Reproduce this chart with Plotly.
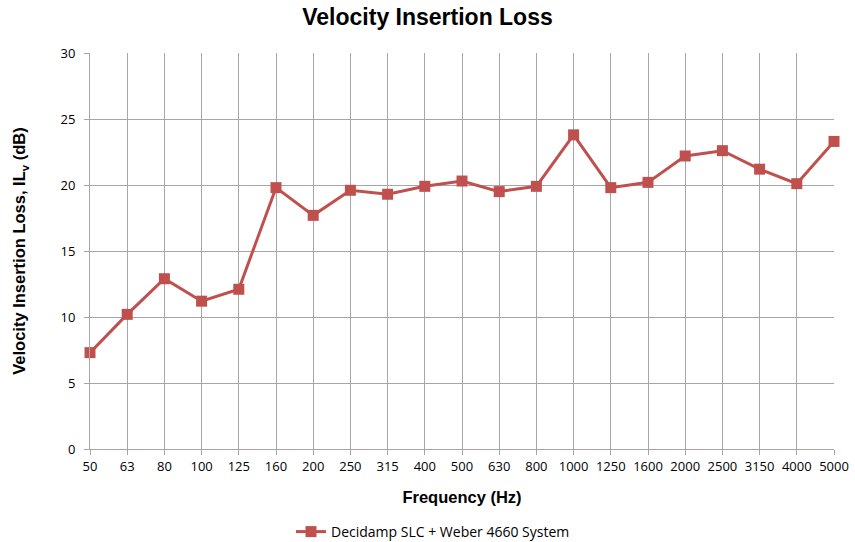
import plotly.graph_objects as go

freqs = ["50", "63", "80", "100", "125", "160", "200", "250", "315", "400", "500",
         "630", "800", "1000", "1250", "1600", "2000", "2500", "3150", "4000", "5000"]
il_v = [7.3, 10.2, 12.9, 11.2, 12.1, 19.8, 17.7, 19.6, 19.3, 19.9, 20.3,
        19.5, 19.9, 23.8, 19.8, 20.2, 22.2, 22.6, 21.2, 20.1, 23.3]
series_name = "Decidamp SLC + Weber 4660 System"

red = "#C0504D"
grid = "#A6A6A6"
tickfont = dict(family="Open Sans, Liberation Sans, sans-serif", size=13, color="#000000")
boldfont = "Liberation Sans, Arial, sans-serif"

fig = go.Figure()
fig.add_trace(go.Scatter(
    x=freqs, y=il_v, name=series_name, mode="lines+markers",
    line=dict(color=red, width=3),
    marker=dict(symbol="square", size=11, color=red),
    cliponaxis=False,
))

fig.update_layout(
    width=855, height=542,
    margin=dict(l=90, r=21, t=53, b=93, autoexpand=False),
    paper_bgcolor="white", plot_bgcolor="white",
    title=dict(text="<b>Velocity Insertion Loss</b>", x=0.5, xanchor="center",
               y=1 - 17 / 542, yanchor="middle",
               font=dict(family=boldfont, size=23, color="#000000")),
    showlegend=True,
    legend=dict(orientation="h", x=(433 - 90) / 744, xanchor="center",
                y=(542 - 93 - 532) / 396, yanchor="middle",
                font=dict(family="Open Sans, Liberation Sans, sans-serif", size=14, color="#000000")),
    xaxis=dict(
        type="category", range=[0, 20], automargin=False,
        showgrid=True, gridcolor=grid, gridwidth=1,
        showline=True, linecolor=grid, linewidth=1,
        ticks="outside", ticklen=5, tickcolor=grid,
        tickfont=tickfont,
        title=dict(text="<b>Frequency (Hz)</b>", standoff=17,
                   font=dict(family=boldfont, size=16.5, color="#000000")),
        zeroline=False,
    ),
    yaxis=dict(
        range=[0, 30], dtick=5, tick0=0, automargin=False,
        showgrid=True, gridcolor=grid, gridwidth=1,
        showline=True, linecolor=grid, linewidth=1,
        ticks="outside", ticklen=5, tickcolor=grid,
        tickfont=tickfont, ticklabelstandoff=6,
        title=dict(text="<b>Velocity Insertion Loss, IL<sub>v</sub> (dB)</b>", standoff=30,
                   font=dict(family=boldfont, size=16.5, color="#000000")),
        zeroline=False,
    ),
)

fig.write_html("out.html", config={"displayModeBar": False},
               post_script="document.body.style.margin='0';")
